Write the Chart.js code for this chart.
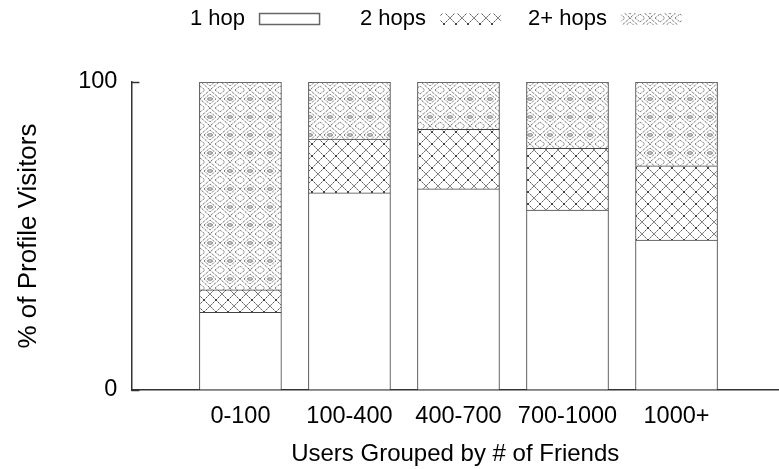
<!DOCTYPE html>
<html>
<head>
<meta charset="utf-8">
<script src="https://cdn.jsdelivr.net/npm/chart.js@4.4.0/dist/chart.umd.min.js"></script>
<style>
    html, body { margin: 0; padding: 0; background: #fff; }
    #contenedor { width: 779px; height: 469px; }
</style>
</head>
<body>
<div id="contenedor"><canvas id="grafico"></canvas></div>
<script>
// Datos (% de visitantes del perfil)
const categorias = ['0-100', '100-400', '400-700', '700-1000', '1000+'];
const posiciones = [1, 2, 3, 4, 5];
const unSalto = [25.2, 64.0, 65.3, 58.4, 48.7];
const dosSaltos = [7.3, 17.5, 19.3, 20.1, 24.1];
const masSaltos = [67.5, 18.5, 15.4, 21.5, 27.2];
const ticksY = [0, 100];
const etiquetasSerie = ['1 hop', '2 hops', '2+ hops'];

const familia = '"Liberation Sans", Arial, sans-serif';
const fuente = { family: familia, size: 22 };
const fuenteTicks = { family: familia, size: 23.5 };
const colorTexto = '#000';
const columnasLeyenda = [190, 360, 528];

// Trama cruzada (2 hops)
function crearPatronCruz() {
    const c = document.createElement('canvas');
    c.width = 12; c.height = 12;
    const g = c.getContext('2d');
    g.fillStyle = '#fff';
    g.fillRect(0, 0, 12, 12);
    g.strokeStyle = '#444';
    g.lineWidth = 1;
    g.setLineDash([2, 1]);
    g.beginPath();
    g.moveTo(0, 0); g.lineTo(12, 12);
    g.moveTo(12, 0); g.lineTo(0, 12);
    g.stroke();
    return g.createPattern(c, 'repeat');
}

// Trama de rombos (2+ hops)
function crearPatronRombos() {
    const c = document.createElement('canvas');
    c.width = 20; c.height = 18;
    const g = c.getContext('2d');
    g.fillStyle = '#fff';
    g.fillRect(0, 0, 20, 18);
    g.strokeStyle = '#3a3a3a';
    g.lineWidth = 1;
    g.setLineDash([1, 1]);
    g.beginPath();
    g.moveTo(0, 9); g.lineTo(10, 0); g.lineTo(20, 9); g.lineTo(10, 18); g.closePath();
    g.stroke();
    g.strokeStyle = '#555';
    g.beginPath();
    g.moveTo(4, 9); g.lineTo(10, 4); g.lineTo(16, 9); g.lineTo(10, 14); g.closePath();
    g.moveTo(0, 4); g.lineTo(5, 0);
    g.moveTo(15, 0); g.lineTo(20, 4);
    g.moveTo(0, 14); g.lineTo(5, 18);
    g.moveTo(15, 18); g.lineTo(20, 14);
    g.stroke();
    g.setLineDash([]);
    g.strokeStyle = '#666';
    g.beginPath();
    g.ellipse(10, 9, 2.5, 1.2, 0, 0, Math.PI * 2);
    g.stroke();
    return g.createPattern(c, 'repeat');
}

function serie(etiqueta, valores, relleno) {
    return {
        label: etiqueta,
        data: posiciones.map((x, i) => ({ x: x, y: valores[i] })),
        backgroundColor: relleno,
        borderColor: '#444',
        borderWidth: 1,
        barThickness: 82,
    };
}

// Leyenda con la muestra a la derecha del texto
const leyendaPersonalizada = {
    id: 'leyendaPersonalizada',
    afterDraw(chart) {
        const ctx = chart.ctx;
        ctx.save();
        ctx.font = `${fuente.size}px ${fuente.family}`;
        ctx.textBaseline = 'middle';
        chart.data.datasets.forEach((ds, i) => {
            const x = columnasLeyenda[i];
            ctx.fillStyle = colorTexto;
            ctx.fillText(ds.label, x, 19);
            const bx = x + ctx.measureText(ds.label).width + 14;
            ctx.fillStyle = ds.backgroundColor;
            ctx.fillRect(bx, 13, 61, 12);
            if (typeof ds.backgroundColor === 'string') {
                ctx.strokeStyle = '#666';
                ctx.lineWidth = 1.5;
                ctx.strokeRect(bx + 0.5, 13.5, 60, 11);
            }
        });
        ctx.restore();
    },
};

// Marcas cortas hacia dentro en el eje Y
const marcasInternas = {
    id: 'marcasInternas',
    afterDraw(chart) {
        const ctx = chart.ctx;
        const ejeY = chart.scales.y;
        const izq = chart.chartArea.left;
        ctx.save();
        ctx.strokeStyle = '#333';
        ctx.lineWidth = 1.5;
        ticksY.forEach((v) => {
            const y = Math.round(ejeY.getPixelForValue(v)) + 0.5;
            ctx.beginPath();
            ctx.moveTo(izq, y);
            ctx.lineTo(izq + 8, y);
            ctx.stroke();
        });
        ctx.restore();
    },
};

const ctx = document.getElementById('grafico').getContext('2d');
new Chart(ctx, {
    type: 'bar',
    data: {
        datasets: [
            serie(etiquetasSerie[0], unSalto, '#fff'),
            serie(etiquetasSerie[1], dosSaltos, crearPatronCruz()),
            serie(etiquetasSerie[2], masSaltos, crearPatronRombos()),
        ],
    },
    options: {
        responsive: true,
        maintainAspectRatio: false,
        animation: false,
        layout: { padding: { top: 82, right: 0, left: 4, bottom: 0 } },
        plugins: { legend: { display: false }, tooltip: { enabled: false } },
        scales: {
            x: {
                type: 'linear',
                stacked: true,
                offset: false,
                min: 0,
                max: 5.94,
                afterBuildTicks: (s) => { s.ticks = posiciones.map((v) => ({ value: v })); },
                ticks: {
                    callback: (v) => categorias[v - 1],
                    font: fuenteTicks,
                    color: colorTexto,
                    padding: 12,
                    maxRotation: 0,
                    autoSkip: false,
                },
                grid: { drawOnChartArea: false, drawTicks: false, offset: false },
                border: { color: '#333', width: 1.5 },
                title: {
                    display: true,
                    text: 'Users Grouped by # of Friends',
                    font: { family: familia, size: 24 },
                    color: colorTexto,
                    padding: { top: -2, bottom: 0 },
                },
            },
            y: {
                stacked: true,
                min: 0,
                max: 100,
                afterBuildTicks: (s) => { s.ticks = ticksY.map((v) => ({ value: v })); },
                ticks: { font: fuenteTicks, color: colorTexto, padding: 14 },
                grid: { drawOnChartArea: false, drawTicks: false },
                border: { color: '#333', width: 1.5 },
                title: {
                    display: true,
                    text: '% of Profile Visitors',
                    font: { family: familia, size: 26 },
                    color: colorTexto,
                    padding: { top: 9, bottom: 20 },
                },
            },
        },
    },
    plugins: [leyendaPersonalizada, marcasInternas],
});
</script>
</body>
</html>
